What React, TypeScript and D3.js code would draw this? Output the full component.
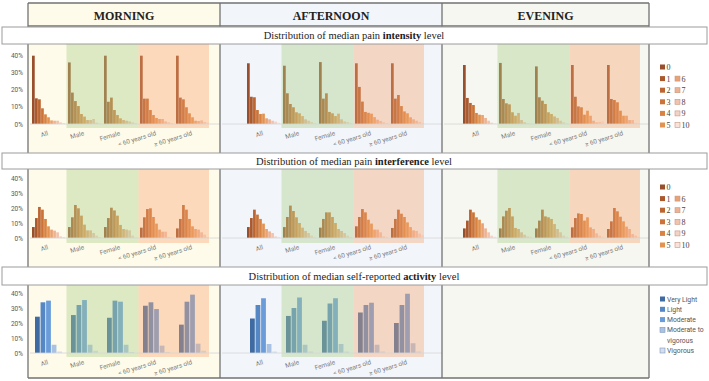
import React, { useRef, useEffect } from 'react';
import { select, scaleBand, scaleLinear, axisLeft } from 'd3';

const periods = ['MORNING', 'AFTERNOON', 'EVENING'];
const categories = ['All', 'Male', 'Female', '< 60 years old', '≥ 60 years old'];
const painLevels = ['0', '1', '2', '3', '4', '5', '6', '7', '8', '9', '10'];
const activityLevels = ['Very Light', 'Light', 'Moderate', 'Moderate to vigorous', 'Vigorous'];
const yTicks = [0, 10, 20, 30, 40];

// % of participants per level, one row per category
const morningIntensity = [
	[39.6, 14.9, 14.3, 9.1, 5.6, 3.9, 2.1, 1.9, 1.9, 1.0, 0.6],
	[35.7, 18.2, 13.3, 10.4, 5.8, 4.3, 2.3, 2.3, 2.9, 0.8, 0.4],
	[39.6, 12.9, 15.3, 8.1, 5.2, 3.3, 2.3, 1.9, 1.5, 1.0, 0.6],
	[39.6, 14.7, 14.7, 8.1, 5.2, 3.5, 2.9, 2.9, 1.5, 1.0, 0.6],
	[39.6, 15.3, 14.3, 9.7, 6.2, 3.9, 1.9, 1.7, 2.1, 1.2, 0.8],
];
const afternoonIntensity = [
	[35.2, 15.8, 15.5, 8.1, 5.8, 6.0, 3.3, 2.7, 1.9, 1.4, 0.8],
	[33.8, 17.8, 11.6, 9.7, 6.8, 6.2, 4.6, 2.7, 1.9, 1.2, 0.6],
	[35.9, 14.7, 17.8, 7.0, 6.2, 4.6, 6.0, 2.7, 1.5, 1.2, 0.6],
	[35.2, 21.5, 13.0, 7.0, 6.5, 6.0, 4.0, 2.5, 1.8, 1.0, 0.6],
	[35.2, 14.7, 16.8, 10.4, 7.3, 6.2, 3.9, 2.7, 1.9, 1.2, 0.6],
];
const eveningIntensity = [
	[34.2, 15.1, 12.2, 11.0, 6.4, 5.4, 5.2, 3.5, 1.9, 0.8, 0.4],
	[35.4, 14.5, 12.0, 11.4, 6.8, 4.8, 6.4, 2.3, 1.0, 0.4, 0.4],
	[33.4, 15.5, 13.5, 11.6, 6.8, 5.8, 4.4, 3.5, 1.9, 1.0, 0.4],
	[34.2, 15.8, 10.2, 9.7, 5.4, 7.7, 4.8, 1.9, 1.0, 1.2, 1.5],
	[34.2, 14.5, 13.9, 12.6, 7.7, 4.8, 4.8, 2.3, 2.3, 0.4, 0.4],
];

const morningInterference = [
	[7.3, 13.3, 20.7, 18.9, 12.7, 7.8, 5.6, 4.9, 3.8, 1.1, 0.7],
	[7.3, 13.8, 22.0, 19.8, 14.9, 8.9, 5.1, 5.1, 3.3, 1.6, 0.7],
	[7.3, 13.3, 20.2, 18.4, 14.9, 8.7, 6.0, 5.6, 5.1, 1.6, 0.4],
	[6.9, 13.8, 19.3, 19.8, 14.0, 9.6, 5.6, 4.2, 4.2, 0.7, 0.4],
	[6.4, 12.7, 22.0, 18.9, 12.7, 7.8, 6.0, 5.6, 3.8, 2.2, 0.7],
];
const afternoonInterference = [
	[7.3, 13.3, 18.9, 15.6, 12.7, 9.6, 6.0, 4.4, 3.3, 1.1, 0.7],
	[7.3, 14.0, 21.6, 18.0, 13.8, 10.0, 6.9, 4.7, 3.3, 1.6, 0.7],
	[6.9, 12.7, 17.1, 17.1, 14.0, 10.0, 6.0, 4.7, 3.3, 1.6, 0.7],
	[7.8, 14.0, 19.3, 17.1, 12.2, 9.6, 5.6, 5.6, 3.8, 1.1, 0.7],
	[6.7, 12.7, 18.9, 16.2, 14.0, 10.4, 7.3, 5.1, 4.7, 2.9, 2.0],
];
const eveningInterference = [
	[6.4, 11.6, 18.9, 17.1, 13.8, 12.2, 9.8, 6.4, 3.8, 1.6, 0.9],
	[6.4, 14.4, 18.2, 20.0, 14.4, 6.7, 6.0, 3.8, 2.2, 1.1, 0.9],
	[6.4, 11.6, 18.9, 14.4, 13.8, 12.7, 9.3, 6.0, 3.8, 1.6, 0.9],
	[7.1, 13.3, 16.4, 16.0, 11.6, 13.8, 7.1, 6.0, 3.1, 1.6, 0.9],
	[6.0, 11.1, 20.0, 17.8, 14.2, 11.1, 7.6, 6.0, 2.7, 1.6, 0.9],
];

const morningActivity = [
	[24.2, 33.8, 34.9, 5.5, 1.0],
	[25.3, 32.0, 35.3, 5.5, 1.5],
	[23.5, 34.9, 34.2, 5.5, 0.7],
	[31.5, 33.8, 29.3, 4.9, 0.7],
	[18.9, 34.2, 38.9, 6.2, 1.5],
];
const afternoonActivity = [
	[23.0, 32.0, 36.5, 6.0, 1.0],
	[24.7, 30.0, 37.0, 5.5, 1.0],
	[21.5, 33.0, 36.5, 6.0, 1.0],
	[27.0, 32.0, 33.5, 5.5, 1.0],
	[20.0, 32.0, 39.5, 6.5, 1.0],
];

const painColors = ['#9a4f2c', '#aa592d', '#bc6531', '#cb7338', '#d98343', '#e39351', '#e9a273', '#edb293', '#f1c2ae', '#f4d3c7', '#f7e2dc'];
const activityColors = ['#3f6ba3', '#5587c4', '#6a9cda', '#a9c2e4', '#d3dfef'];

const panelX = [28, 220, 442, 649];
const panelBg = ['#fefbea', '#f2f5fa', '#f5f7f0'];
const groupStart = [30.5, 245.5, 461.5];

function App() {
	const svgRef = useRef(null);

	useEffect(() => {
		const svg = select(svgRef.current);
		svg.selectAll('*').remove();

		const rows = [
			{ lead: 'Distribution of median pain ', bold: 'intensity', tail: ' level', boxTop: 27, boxBottom: 44, baseline: 124, top40: 55, bandBottom: 128, levels: painLevels, colors: painColors, half: 16.5, pad: 0.1, data: [morningIntensity, afternoonIntensity, eveningIntensity] },
			{ lead: 'Distribution of median pain ', bold: 'interference', tail: ' level', boxTop: 153, boxBottom: 169, baseline: 238, top40: 178, bandBottom: 243, levels: painLevels, colors: painColors, half: 16.5, pad: 0.1, data: [morningInterference, afternoonInterference, eveningInterference] },
			{ lead: 'Distribution of median self-reported ', bold: 'activity', tail: ' level', boxTop: 267, boxBottom: 285, baseline: 353, top40: 293, bandBottom: 357, levels: activityLevels, colors: activityColors, half: 13.5, pad: 0.14, data: [morningActivity, afternoonActivity, null] },
		];

		periods.forEach((name, p) => {
			svg.append('rect')
				.attr('x', panelX[p]).attr('y', 3)
				.attr('width', panelX[p + 1] - panelX[p]).attr('height', 375)
				.attr('fill', panelBg[p]);
		});

		rows.forEach((row) => {
			const y = scaleLinear().domain([0, 40]).range([row.baseline, row.top40]);

			periods.forEach((name, p) => {
				const data = row.data[p];
				if (!data) return;
				const x = scaleBand().domain(categories).range([groupStart[p], groupStart[p] + 180]);
				const inner = scaleBand().domain(row.levels).range([-row.half, row.half]).paddingInner(row.pad);
				const g = svg.append('g');

				g.selectAll('.grp')
					.data(data)
					.join('g')
					.attr('class', 'grp')
					.attr('transform', (d, i) => `translate(${x(categories[i]) + x.bandwidth() / 2},0)`)
					.selectAll('rect')
					.data((d) => d)
					.join('rect')
					.attr('x', (d, j) => inner(row.levels[j]))
					.attr('y', (d) => y(d))
					.attr('width', inner.bandwidth())
					.attr('height', (d) => row.baseline - y(d))
					.attr('fill', (d, j) => row.colors[j]);

				// shaded bands drawn over the bars
				g.append('rect')
					.attr('x', x('Male')).attr('y', row.boxBottom)
					.attr('width', x.step() * 2).attr('height', row.bandBottom - row.boxBottom)
					.attr('fill', '#a9d08a').attr('opacity', 0.4);
				g.append('rect')
					.attr('x', x('< 60 years old')).attr('y', row.boxBottom)
					.attr('width', x.step() * 2 - 1.5).attr('height', row.bandBottom - row.boxBottom)
					.attr('fill', '#f6a26c').attr('opacity', 0.38);

				g.append('line')
					.attr('x1', panelX[p] + 2).attr('x2', panelX[p + 1])
					.attr('y1', row.baseline).attr('y2', row.baseline)
					.attr('stroke', '#d6d6d6').attr('stroke-width', 0.8);

				g.selectAll('.lbl')
					.data(categories)
					.join('text')
					.attr('class', 'lbl')
					.attr('transform', (d) => `translate(${x(d) + x.bandwidth() / 2},${row.baseline + 11}) rotate(-17)`)
					.attr('text-anchor', 'end')
					.attr('font-size', 6.4)
					.attr('font-family', 'Roboto, sans-serif')
					.attr('fill', '#7a7a7a')
					.text((d) => d);
			});

			svg.append('g')
				.attr('transform', 'translate(25,0)')
				.call(axisLeft(y).tickValues(yTicks).tickSize(0).tickPadding(2).tickFormat((d) => `${d}%`))
				.call((a) => a.select('.domain').remove())
				.selectAll('text')
				.attr('font-size', 6.5)
				.attr('font-family', 'Roboto, sans-serif')
				.attr('fill', '#595959');
		});

		// panel frames
		const frame = svg.append('g').attr('stroke', '#727272').attr('stroke-width', 1.3).attr('fill', 'none');
		panelX.forEach((px) => {
			frame.append('line').attr('x1', px).attr('x2', px).attr('y1', 3).attr('y2', 378);
		});
		[3, 26, 378].forEach((py) => {
			frame.append('line').attr('x1', panelX[0]).attr('x2', panelX[3]).attr('y1', py).attr('y2', py);
		});

		periods.forEach((name, p) => {
			svg.append('text')
				.attr('x', (panelX[p] + panelX[p + 1]) / 2).attr('y', 19.5)
				.attr('text-anchor', 'middle')
				.attr('font-family', '"Liberation Serif", serif')
				.attr('font-weight', 'bold')
				.attr('font-size', 12)
				.attr('fill', '#222')
				.text(name);
		});

		// title boxes
		rows.forEach((row) => {
			svg.append('rect')
				.attr('x', 2).attr('y', row.boxTop)
				.attr('width', 705).attr('height', row.boxBottom - row.boxTop)
				.attr('fill', '#fff').attr('stroke', '#9c9c9c').attr('stroke-width', 1);
			const t = svg.append('text')
				.attr('x', 354).attr('y', (row.boxTop + row.boxBottom) / 2 + 3.7)
				.attr('text-anchor', 'middle')
				.attr('font-family', '"Liberation Serif", serif')
				.attr('font-size', 10.5)
				.attr('fill', '#222');
			t.append('tspan').text(row.lead);
			t.append('tspan').attr('font-weight', 'bold').text(row.bold);
			t.append('tspan').text(row.tail);
		});

		// pain legends (two columns: 0-5 and 6-10)
		[67, 187].forEach((top) => {
			const lg = svg.append('g');
			painLevels.forEach((lvl, j) => {
				const col = j <= 5 ? 0 : 1;
				const r = j <= 5 ? j : j - 5;
				const lx = 660 + col * 15;
				const ly = top + r * 11.6;
				lg.append('rect')
					.attr('x', lx).attr('y', ly - 2.5).attr('width', 5).attr('height', 5)
					.attr('fill', painColors[j])
					.attr('stroke', j >= 6 ? '#c9967e' : 'none').attr('stroke-width', 0.6);
				lg.append('text')
					.attr('x', lx + 6.5).attr('y', ly + 3)
					.attr('font-family', '"Liberation Serif", serif')
					.attr('font-size', 8)
					.attr('fill', '#444')
					.text(lvl);
			});
		});

		// activity legend
		const al = svg.append('g');
		let ay = 299;
		activityLevels.forEach((lvl, j) => {
			al.append('rect')
				.attr('x', 660).attr('y', ay - 2.5).attr('width', 5).attr('height', 5)
				.attr('fill', activityColors[j])
				.attr('stroke', j >= 3 ? '#7f97bd' : 'none').attr('stroke-width', 0.6);
			const words = lvl === 'Moderate to vigorous' ? ['Moderate to', 'vigorous'] : [lvl];
			words.forEach((w, k) => {
				al.append('text')
					.attr('x', 667).attr('y', ay + 2.5 + k * 10.3)
					.attr('font-family', 'Roboto, sans-serif')
					.attr('font-size', 6.8)
					.attr('fill', '#555')
					.text(w);
			});
			ay += 10.3 * words.length;
		});
	}, []);

	return (
		<svg
			ref={svgRef}
			width={709}
			height={381}
			style={{ position: 'absolute', left: 0, top: 0, background: '#fff' }}
		/>
	);
}

export default App;
